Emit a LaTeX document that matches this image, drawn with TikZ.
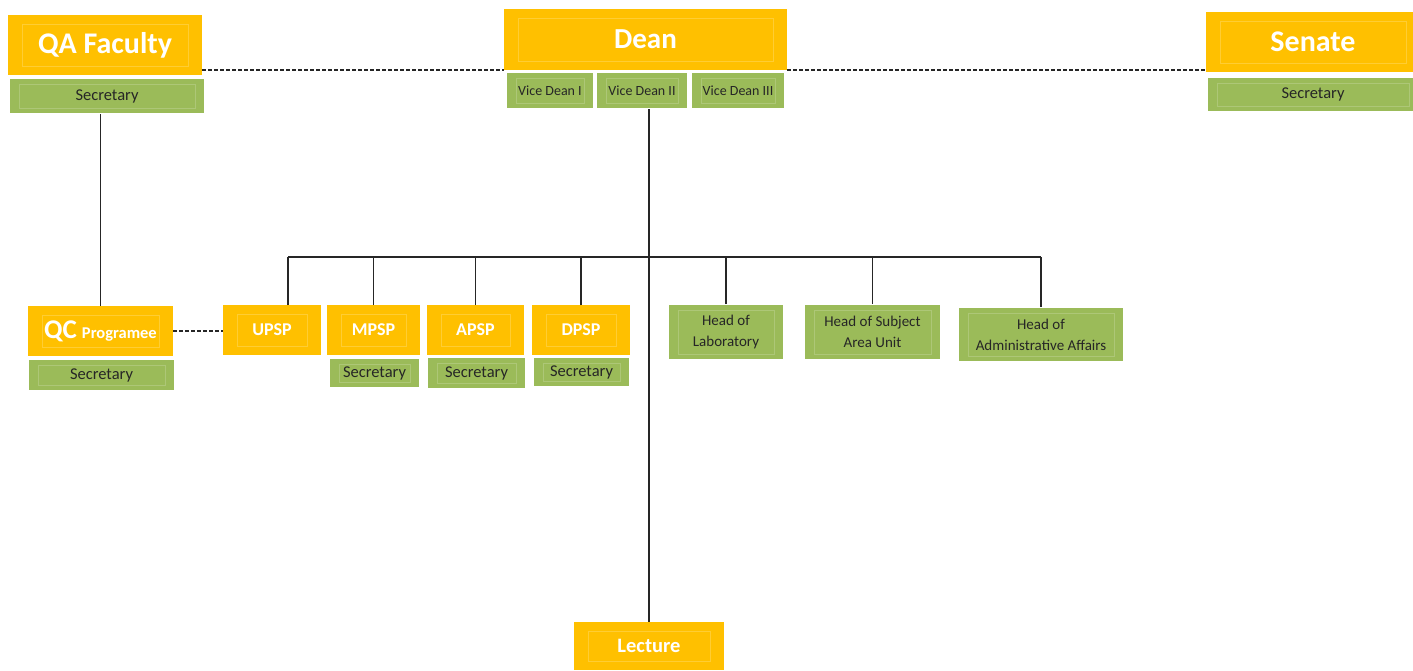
\documentclass[tikz,border=0pt]{standalone}
\usepackage{fontspec}
\setmainfont{Carlito}
\usetikzlibrary{calc}
\definecolor{orgyellow}{HTML}{FFC000}
\definecolor{orggreen}{HTML}{9BBB59}

\tikzset{
	ybox/.style={rectangle, fill=orgyellow, text=white, font=\bfseries, inner sep=0pt, outer sep=0pt, align=center,
		path picture={\draw[orgyellow!80!white, line width=0.6pt] ([shift={(14pt,-9pt)}]path picture bounding box.north west) rectangle ([shift={(-14pt,9pt)}]path picture bounding box.south east);}},
	gbox/.style={rectangle, fill=orggreen, draw=white, line width=1.6pt, text=black!85, inner sep=0pt, outer sep=0pt, align=center,
		path picture={\draw[orggreen!82!white, line width=0.5pt] ([shift={(10pt,-6pt)}]path picture bounding box.north west) rectangle ([shift={(-10pt,6pt)}]path picture bounding box.south east);}},
	link/.style={line width=1.4pt, black!85},
	dlink/.style={line width=1.4pt, black!85, dash pattern=on 4pt off 2pt},
}

\begin{document}
\begin{tikzpicture}[x=1pt, y=-1pt]
			%%%%% START %%%%%
			\useasboundingbox (0,0) rectangle (1413,670);
			
			% top row
			\node[ybox, minimum width=194, minimum height=60, font=\bfseries\fontsize{30}{32}\selectfont] (qa) at (105, 45) {QA Faculty};
			\node[gbox, minimum width=196, minimum height=36, font=\fontsize{16.5}{18}\selectfont] (qasec) at (107, 96) {Secretary};
			
			\node[ybox, minimum width=283, minimum height=61, font=\bfseries\fontsize{29}{32}\selectfont] (dean) at (645.5, 39.5) {Dean};
			\node[gbox, minimum width=88, minimum height=37, font=\fontsize{14}{16}\selectfont] (vd1) at (550, 90.5) {Vice Dean I};
			\node[gbox, minimum width=92, minimum height=37, font=\fontsize{14}{16}\selectfont] (vd2) at (642, 90.5) {Vice Dean II};
			\node[gbox, minimum width=94, minimum height=37, font=\fontsize{14}{16}\selectfont] (vd3) at (738, 90.5) {Vice Dean III};
			
			\node[ybox, minimum width=214, minimum height=60, font=\bfseries\fontsize{30}{32}\selectfont] (senate) at (1313, 42) {Senate};
			\node[gbox, minimum width=212, minimum height=35, font=\fontsize{16.5}{18}\selectfont] (senatesec) at (1313, 94.5) {Secretary};
			
			% QC
			\node[ybox, minimum width=145, minimum height=50] (qc) at (100.5, 331) {{\fontsize{27}{28}\selectfont QC}\hspace{5pt}{\fontsize{16.5}{18}\selectfont Programee}};
			\node[gbox, minimum width=147, minimum height=32, font=\fontsize{16.5}{18}\selectfont] (qcsec) at (101.5, 375) {Secretary};
			
			% programmes
			\node[ybox, minimum width=98, minimum height=50, font=\bfseries\fontsize{18}{20}\selectfont] (upsp) at (272, 330) {UPSP};
			\node[ybox, minimum width=93, minimum height=50, font=\bfseries\fontsize{18}{20}\selectfont] (mpsp) at (373.5, 330) {MPSP};
			\node[gbox, minimum width=91, minimum height=30, font=\fontsize{16.5}{18}\selectfont] (mpspsec) at (374.5, 373) {Secretary};
			\node[ybox, minimum width=97, minimum height=50, font=\bfseries\fontsize{18}{20}\selectfont] (apsp) at (475.5, 330) {APSP};
			\node[gbox, minimum width=99, minimum height=32, font=\fontsize{16.5}{18}\selectfont] (apspsec) at (476.5, 373) {Secretary};
			\node[ybox, minimum width=98, minimum height=50, font=\bfseries\fontsize{18}{20}\selectfont] (dpsp) at (581, 330) {DPSP};
			\node[gbox, minimum width=97, minimum height=30, font=\fontsize{16.5}{18}\selectfont] (dpspsec) at (581.5, 372) {Secretary};
			
			% heads
			\node[gbox, minimum width=116, minimum height=56, font=\fontsize{15}{21}\selectfont] (lab) at (726, 332) {Head of\\Laboratory};
			\node[gbox, minimum width=137, minimum height=56, font=\fontsize{15}{21}\selectfont] (subj) at (872.5, 332) {Head of Subject\\Area Unit};
			\node[gbox, minimum width=166, minimum height=55, font=\fontsize{15}{21}\selectfont] (admin) at (1041, 334.5) {Head of\\Administrative Affairs};
			
			\node[ybox, minimum width=150, minimum height=48, font=\bfseries\fontsize{20.5}{22}\selectfont] (lecture) at (649, 646) {Lecture};
			
			% links
			\draw[dlink] (qa.east |- dean.south) -- (dean.south west);
			\draw[dlink] (dean.south east) -- (senate.west |- dean.south);
			\draw[dlink] (qc.east) -- (upsp.west |- qc.east);
			
			\draw[link] (qasec.south -| qc.north) -- (qc.north);
			\draw[link] (vd2.south -| lecture.north) -- (lecture.north);
			
			\coordinate (bus) at (649, 257);
			\draw[link] ([xshift=16pt]upsp.north |- bus) -- (admin.north |- bus);
			\draw[link] ([xshift=16pt]upsp.north) -- ([xshift=16pt]upsp.north |- bus);
			\foreach \n in {mpsp, apsp, dpsp, lab, subj, admin}
				\draw[link] (\n.north) -- (\n.north |- bus);
			
			%%%%% END %%%%%
		\end{tikzpicture}
\end{document}
